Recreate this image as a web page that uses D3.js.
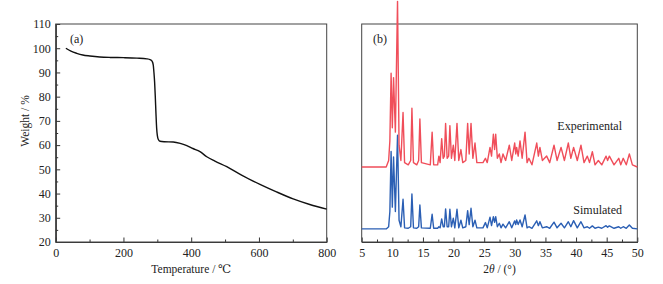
<!DOCTYPE html>
<html>
<head>
<meta charset="utf-8">
<script src="https://cdn.jsdelivr.net/npm/d3@7"></script>
<style>
  body { margin: 0; background: #fff; }
  svg { display: block; overflow: visible; }
  svg text { font-family: "Liberation Serif", "DejaVu Serif", "Times New Roman", serif; fill: #222; }
  .axis path, .axis line { stroke: #333; }
</style>
</head>
<body>
<svg id="chart" width="663" height="284"></svg>
<script>
// (a) TGA curve
var temperature = [30, 45, 62, 80, 101, 130, 160, 200, 240, 269, 280, 285, 288, 290, 292, 294, 296, 298, 300, 303, 308, 320, 347, 370, 387, 405, 426, 446, 470, 505, 550, 603, 650, 701, 750, 800];
var weight = [100, 98.8, 97.9, 97.2, 96.8, 96.4, 96.2, 96.1, 95.9, 95.6, 95.2, 94.5, 93, 90, 86, 80, 73, 67, 64, 62.3, 61.6, 61.4, 61.3, 60.6, 59.8, 58.6, 57.3, 55.2, 53.4, 51.1, 47.5, 43.8, 40.8, 37.8, 35.5, 33.6];
var tempTicks = [0, 200, 400, 600, 800];
var weightTicks = [20, 30, 40, 50, 60, 70, 80, 90, 100, 110];

// (b) XRD patterns, vertices (a.u., above each baseline)
var twoTheta = [5, 9.0, 9.4, 9.6, 9.8, 10.0, 10.2, 10.5, 10.85, 11.1, 11.4, 11.75, 12.0, 12.6, 13.0, 13.2, 13.45, 14.0, 14.3, 14.5, 14.75, 16.2, 16.5, 16.75, 17.4, 17.6, 17.8, 18.06, 18.3, 18.5, 18.7, 18.95, 19.2, 19.4, 19.65, 19.96, 20.2, 20.56, 20.85, 21.2, 21.5, 22.0, 22.3, 22.55, 22.85, 23.15, 23.5, 23.8, 24.8, 25.2, 25.5, 25.95, 26.2, 26.5, 26.7, 26.88, 27.15, 27.47, 27.75, 28.07, 28.5, 29.1, 29.5, 29.98, 30.15, 30.3, 30.55, 30.85, 31.2, 31.67, 32.0, 32.3, 32.8, 33.58, 33.85, 34.1, 34.5, 35.2, 35.7, 36.4, 36.9, 37.55, 38.1, 38.74, 39.15, 39.6, 40.2, 40.8, 41.3, 41.84, 42.2, 42.66, 43.1, 43.64, 44.2, 44.9, 45.15, 45.44, 46.2, 46.97, 47.3, 47.7, 48.2, 48.7, 49.2, 50];
var experimental = [0, 0, 3, 12, 43, 18, 41, 16, 76, 10, 3, 25, 2, 1, 3, 27, 2, 1, 3, 22, 2, 1, 16, 1, 1, 5, 2, 13, 4, 5, 20, 4, 5, 19, 4, 10, 3, 20, 3, 8, 2, 3, 20, 6, 20, 4, 11, 2, 2, 4, 2, 9, 5, 15, 8, 15, 4, 6, 2, 6, 3, 10, 3, 11, 6, 9, 5, 12, 4, 16, 2, 4, 1, 11, 5, 9, 3, 5, 2, 10, 3, 9, 3, 11, 4, 9, 3, 10, 2, 5, 2, 7, 1, 3, 1, 5, 3, 5, 1, 4, 1, 4, 1, 6, 1, 0];
var simulated = [0, 0, 1, 8, 35.5, 10, 33, 8, 43, 4, 1, 13.6, 0.5, 0.3, 1, 16, 0.5, 0.3, 1, 11, 0.5, 0.3, 6.7, 0.3, 0.3, 1, 0.5, 4.6, 1, 1, 9.2, 1, 1, 9, 1, 4.9, 0.5, 9, 0.5, 4, 0.5, 1, 8.4, 2, 9.5, 1, 4, 0.5, 0.5, 2.9, 0.5, 5.4, 1.5, 5.6, 3, 5.6, 1, 2.6, 0.5, 2.2, 0.5, 3.3, 0.5, 3.7, 2, 4.1, 2, 4.1, 1, 6.4, 0.5, 1, 0.3, 3.7, 1.5, 3.3, 0.5, 1, 0.3, 3.1, 0.5, 2.6, 0.5, 3.3, 1, 3.8, 0.5, 3.3, 0.5, 1, 0.3, 1.4, 0.3, 0.8, 0.3, 1.5, 0.8, 1.4, 0.3, 1, 0.3, 1, 0.3, 1.8, 0.3, 0];
var expOffset = 34.4, simOffset = 6;
var thetaTicks = [5, 10, 15, 20, 25, 30, 35, 40, 45, 50];

var svg = d3.select("#chart");
var top0 = 24, bottom0 = 242;
var serif = "'Liberation Serif', 'DejaVu Serif', serif";

// ---------- panel (a) ----------
var xa = d3.scaleLinear().domain([0, 800]).range([55.7, 326.7]);
var ya = d3.scaleLinear().domain([20, 110]).range([bottom0, top0]);

var ga = svg.append("g");

ga.append("g").attr("class", "axis")
  .attr("transform", "translate(0," + bottom0 + ")")
  .call(d3.axisBottom(xa).tickValues(d3.range(100, 800, 200)).tickSize(-2.5).tickSizeOuter(0).tickFormat(""));
ga.append("g").attr("class", "axis")
  .attr("transform", "translate(0," + bottom0 + ")")
  .call(d3.axisBottom(xa).tickValues(tempTicks).tickSize(-4.5).tickSizeOuter(0).tickPadding(6).tickFormat(d3.format("d")));
ga.append("g").attr("class", "axis")
  .attr("transform", "translate(" + xa(0) + ",0)")
  .call(d3.axisLeft(ya).tickValues(d3.range(25, 110, 10)).tickSize(-2.5).tickSizeOuter(0).tickFormat(""));
ga.append("g").attr("class", "axis")
  .attr("transform", "translate(" + xa(0) + ",0)")
  .call(d3.axisLeft(ya).tickValues(weightTicks).tickSize(-4.5).tickSizeOuter(0).tickPadding(5).tickFormat(d3.format("d")));

ga.append("rect")
  .attr("x", xa(0)).attr("y", top0)
  .attr("width", xa(800) - xa(0)).attr("height", bottom0 - top0)
  .attr("fill", "none").attr("stroke", "#444").attr("stroke-width", 1);

var tga = d3.zip(temperature, weight);
ga.append("path")
  .datum(tga)
  .attr("fill", "none")
  .attr("stroke", "#111")
  .attr("stroke-width", 1.4)
  .attr("d", d3.line()
    .x(function(d) { return xa(d[0]); })
    .y(function(d) { return ya(d[1]); })
    .curve(d3.curveMonotoneX));

ga.append("text").attr("x", 70).attr("y", 43).style("font-size", "12px").text("(a)");
ga.append("text")
  .attr("x", (xa(0) + xa(800)) / 2).attr("y", 273)
  .attr("text-anchor", "middle").style("font-size", "11.5px")
  .text("Temperature / \u2103");
ga.append("text")
  .attr("transform", "translate(29,121) rotate(-90)")
  .attr("text-anchor", "middle").style("font-size", "11.5px")
  .text("Weight / %");

// ---------- panel (b) ----------
var xb = d3.scaleLinear().domain([5, 50]).range([361.7, 637.3]);
var yb = d3.scaleLinear().domain([0, 100]).range([bottom0, top0]);

var gb = svg.append("g");

gb.append("g").attr("class", "axis")
  .attr("transform", "translate(0," + bottom0 + ")")
  .call(d3.axisBottom(xb).tickValues(d3.range(7.5, 50, 5)).tickSize(-2.5).tickSizeOuter(0).tickFormat(""));
gb.append("g").attr("class", "axis")
  .attr("transform", "translate(0," + bottom0 + ")")
  .call(d3.axisBottom(xb).tickValues(thetaTicks).tickSize(-4.5).tickSizeOuter(0).tickPadding(6).tickFormat(d3.format("d")));

gb.append("rect")
  .attr("x", xb(5)).attr("y", top0)
  .attr("width", xb(50) - xb(5)).attr("height", bottom0 - top0)
  .attr("fill", "none").attr("stroke", "#444").attr("stroke-width", 1);

var lineB = function(offset) {
  return d3.line()
    .x(function(d) { return xb(d[0]); })
    .y(function(d) { return yb(d[1] + offset); });
};

gb.append("path")
  .datum(d3.zip(twoTheta, simulated))
  .attr("fill", "none")
  .attr("stroke", "#2b5fb4")
  .attr("stroke-width", 1.4)
  .attr("stroke-linejoin", "round")
  .attr("d", lineB(simOffset));

gb.append("path")
  .datum(d3.zip(twoTheta, experimental))
  .attr("fill", "none")
  .attr("stroke", "#f04e5a")
  .attr("stroke-width", 1.4)
  .attr("stroke-linejoin", "round")
  .attr("d", lineB(expOffset));

gb.append("text").attr("x", 373).attr("y", 43).style("font-size", "12px").text("(b)");
gb.append("text").attr("x", 622).attr("y", 130).attr("text-anchor", "end").style("font-size", "12px").text("Experimental");
gb.append("text").attr("x", 622).attr("y", 214).attr("text-anchor", "end").style("font-size", "12px").text("Simulated");

var xl = gb.append("text")
  .attr("x", (xb(5) + xb(50)) / 2).attr("y", 273)
  .attr("text-anchor", "middle").style("font-size", "11.5px");
xl.append("tspan").text("2");
xl.append("tspan").style("font-style", "italic").text("\u03b8");
xl.append("tspan").text(" / (\u00b0)");

svg.selectAll(".axis").attr("font-family", null);
svg.selectAll("text").style("font-family", serif);
svg.selectAll(".axis text").style("font-size", "12px").attr("fill", "#222");
</script>
</body>
</html>
